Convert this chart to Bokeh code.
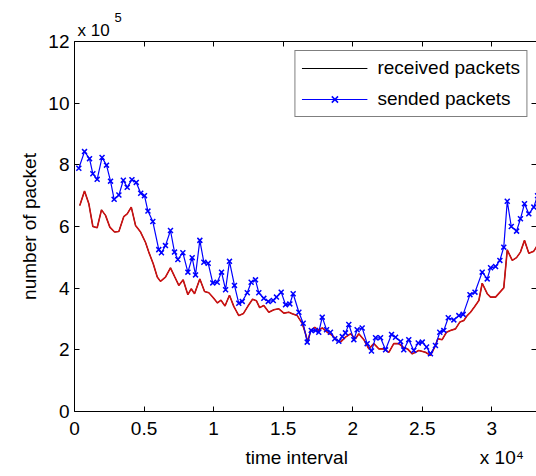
from bokeh.plotting import figure
from bokeh.models import FixedTicker, LinearAxis, Legend, LegendItem, Range1d, Title
from bokeh.embed import file_html
from bokeh.resources import INLINE

# ---------------- data (values in units of 1e5 packets) ----------------
x_ticks = [0, 5000, 10000, 15000, 20000, 25000, 30000]
x_tick_labels = ["0", "0.5", "1", "1.5", "2", "2.5", "3"]
y_ticks = [0, 200000, 400000, 600000, 800000, 1000000, 1200000]
y_tick_labels = ["0", "2", "4", "6", "8", "10", "12"]

sent_t = [310, 720, 1080, 1320, 1630, 1980, 2300, 2590, 2850, 3190,
          3510, 3790, 4130, 4440, 4760, 5030, 5280, 5630, 6060, 6250,
          6540, 6900, 7190, 7430, 7790, 8150, 8460, 8700, 9010, 9300,
          9610, 9940, 10260, 10570, 10860, 11140, 11500, 11810, 12060, 12420,
          12700, 13010, 13250, 13610, 13930, 14290, 14520, 14860, 15170, 15480,
          15720, 16130, 16440, 16730, 17020, 17330, 17560, 17810, 18120, 18400,
          18710, 19000, 19250, 19480, 19720, 20080, 20320, 20680, 21040, 21350,
          21640, 22000, 22360, 22790, 23080, 23440, 23670, 24030, 24390, 24710,
          25000, 25310, 25590, 25950, 26260, 26550, 26870, 27270, 27630, 27940,
          28430, 28790, 29310, 29670, 29910, 30270, 30580, 30860, 31110, 31400,
          31780, 32060, 32350, 32660, 33020, 33290]
sent_v = [7.89, 8.43, 8.20, 7.71, 7.53, 8.24, 7.99, 7.47, 6.88, 7.02,
          7.50, 7.27, 7.52, 7.43, 7.08, 7.00, 6.50, 6.16, 5.25, 5.15,
          5.38, 5.87, 5.17, 4.93, 5.15, 4.52, 4.99, 4.43, 5.55, 4.84,
          4.81, 4.17, 4.19, 4.52, 3.95, 4.87, 4.09, 3.51, 3.57, 3.85,
          4.19, 4.27, 3.85, 3.67, 3.57, 3.60, 3.71, 3.87, 3.46, 3.49,
          3.82, 3.22, 2.86, 2.25, 2.63, 2.63, 2.57, 3.06, 2.65, 2.57,
          2.36, 2.28, 2.43, 2.55, 2.82, 2.33, 2.65, 2.71, 2.20, 1.96,
          2.39, 2.39, 2.00, 2.50, 2.41, 2.27, 2.00, 2.33, 1.98, 2.22,
          2.25, 2.09, 1.87, 2.14, 2.57, 2.63, 3.04, 2.97, 3.11, 3.15,
          3.79, 3.87, 4.52, 4.30, 4.66, 4.70, 4.90, 5.33, 6.82, 6.00,
          5.85, 6.25, 6.74, 6.41, 6.63, 7.00]

recv_t = [380, 720, 1030, 1320, 1630, 1940, 2230, 2540, 2880, 3190,
          3540, 3790, 4080, 4390, 4750, 5100, 5340, 5660, 5950, 6180,
          6540, 6900, 7190, 7500, 7810, 8150, 8390, 8630, 9010, 9350,
          9660, 9960, 10280, 10530, 10820, 11140, 11450, 11810, 12150, 12470,
          12800, 13080, 13310, 13610, 13970, 14330, 14690, 15050, 15410, 15650,
          16010, 16370, 16610, 16770, 16970, 17280, 17560, 17810, 18170, 18530,
          18890, 19120, 19480, 19840, 20200, 20440, 20800, 21160, 21520, 21880,
          22240, 22600, 22950, 23310, 23670, 23940, 24280, 24750, 25230, 25590,
          25950, 26120, 26430, 26740, 27030, 27390, 27700, 27990, 28230, 28470,
          28760, 29070, 29310, 29670, 29910, 30270, 30860, 31110, 31470, 31780,
          32060, 32350, 32660, 33020, 33290]
recv_v = [6.68, 7.15, 6.74, 6.00, 5.96, 6.54, 6.36, 5.98, 5.82, 5.84,
          6.32, 6.41, 6.63, 6.03, 5.82, 5.49, 5.17, 4.79, 4.36, 4.22,
          4.36, 4.66, 4.38, 4.09, 4.27, 3.79, 3.98, 3.82, 4.30, 3.89,
          3.85, 3.70, 3.52, 3.61, 3.42, 3.77, 3.41, 3.11, 3.18, 3.42,
          3.64, 3.59, 3.37, 3.44, 3.22, 3.30, 3.33, 3.19, 3.22, 3.17,
          3.11, 2.86, 2.52, 2.25, 2.63, 2.73, 2.63, 2.71, 2.57, 2.47,
          2.30, 2.25, 2.41, 2.52, 2.36, 2.52, 2.33, 2.03, 2.20, 2.03,
          2.03, 1.92, 2.20, 2.20, 2.07, 2.03, 1.87, 1.98, 1.92, 1.82,
          2.14, 2.36, 2.33, 2.57, 2.63, 2.68, 2.90, 2.95, 3.11, 3.22,
          3.40, 3.60, 4.16, 3.82, 3.71, 3.71, 4.01, 5.24, 4.90, 4.99,
          5.17, 5.55, 5.13, 5.20, 5.40]

UNIT = 1e5
sent_y = [v * UNIT for v in sent_v]
recv_y = [v * UNIT for v in recv_v]

FONT = "Liberation Sans"
FS = "19px"
NB = "\u00a0"

p = figure(width=536, height=476, output_backend="svg", toolbar_location=None,
           title=None,
           x_range=Range1d(0, 33213), y_range=Range1d(0, 1200000),
           x_axis_type=None, y_axis_type=None,
           min_border_left=74, min_border_right=0, min_border_top=41, min_border_bottom=65)
p.outline_line_color = None
p.background_fill_color = "white"
p.border_fill_color = "white"


def style_axis(ax):
    ax.axis_line_color = "black"
    ax.axis_line_width = 1
    ax.major_tick_in = 5
    ax.major_tick_out = 0
    ax.minor_tick_in = 0
    ax.minor_tick_out = 0
    ax.major_tick_line_color = "black"
    ax.major_label_text_font = FONT
    ax.major_label_text_font_size = FS
    ax.major_label_text_color = "black"
    ax.axis_label_text_font = FONT
    ax.axis_label_text_font_size = FS
    ax.axis_label_text_font_style = "normal"
    ax.axis_label_text_color = "black"


xb = LinearAxis(ticker=FixedTicker(ticks=x_ticks),
                major_label_overrides=dict(zip(x_ticks, x_tick_labels)),
                axis_label=NB * 30 + "time interval" + NB * 25 + "x 10\u2074")
style_axis(xb)
xb.major_label_standoff = 10
xb.axis_label_standoff = 9
p.add_layout(xb, "below")

yl = LinearAxis(ticker=FixedTicker(ticks=y_ticks),
                major_label_overrides=dict(zip(y_ticks, y_tick_labels)),
                axis_label="number of packet")
style_axis(yl)
yl.major_label_standoff = 5
yl.axis_label_standoff = 5
p.add_layout(yl, "left")

xt = LinearAxis(ticker=FixedTicker(ticks=x_ticks))
style_axis(xt)
xt.major_label_text_color = None
xt.major_label_text_font_size = "1px"
xt.major_label_standoff = 0
p.add_layout(xt, "above")

yr = LinearAxis(ticker=FixedTicker(ticks=y_ticks))
style_axis(yr)
yr.axis_line_color = None
yr.major_label_text_color = None
yr.major_label_text_font_size = "1px"
yr.major_label_standoff = 0
p.add_layout(yr, "right")

p.add_layout(Title(text="x 10", align="left", offset=3, standoff=4,
                   text_font=FONT, text_font_size="17px", text_font_style="normal",
                   text_color="black"), "above")
p.add_layout(Title(text="5", align="left", offset=40, standoff=-10,
                   text_font=FONT, text_font_size="13px", text_font_style="normal",
                   text_color="black"), "above")

r_recv_k = p.line(recv_t, recv_y, line_color="black", line_width=1)
r_recv = p.line(recv_t, recv_y, line_color="#cc1111", line_width=1.6)
r_sent = p.line(sent_t, sent_y, line_color="#0000ff", line_width=1.2)
r_mark = p.scatter(sent_t, sent_y, marker="x", size=7, line_color="#0000ff", line_width=1.5)

legend = Legend(items=[LegendItem(label="received packets", renderers=[r_recv_k]),
                       LegendItem(label="sended packets", renderers=[r_sent, r_mark])],
                location="top_right")
legend.margin = 9
legend.padding = 6
legend.spacing = 9
legend.label_height = 22
legend.glyph_height = 22
legend.glyph_width = 66
legend.label_standoff = 10
legend.border_line_color = "black"
legend.border_line_width = 1
legend.background_fill_color = "white"
legend.background_fill_alpha = 1
legend.label_text_font = FONT
legend.label_text_font_size = FS
legend.label_text_color = "black"
p.add_layout(legend)

open("out.html", "w").write(file_html(p, INLINE))
